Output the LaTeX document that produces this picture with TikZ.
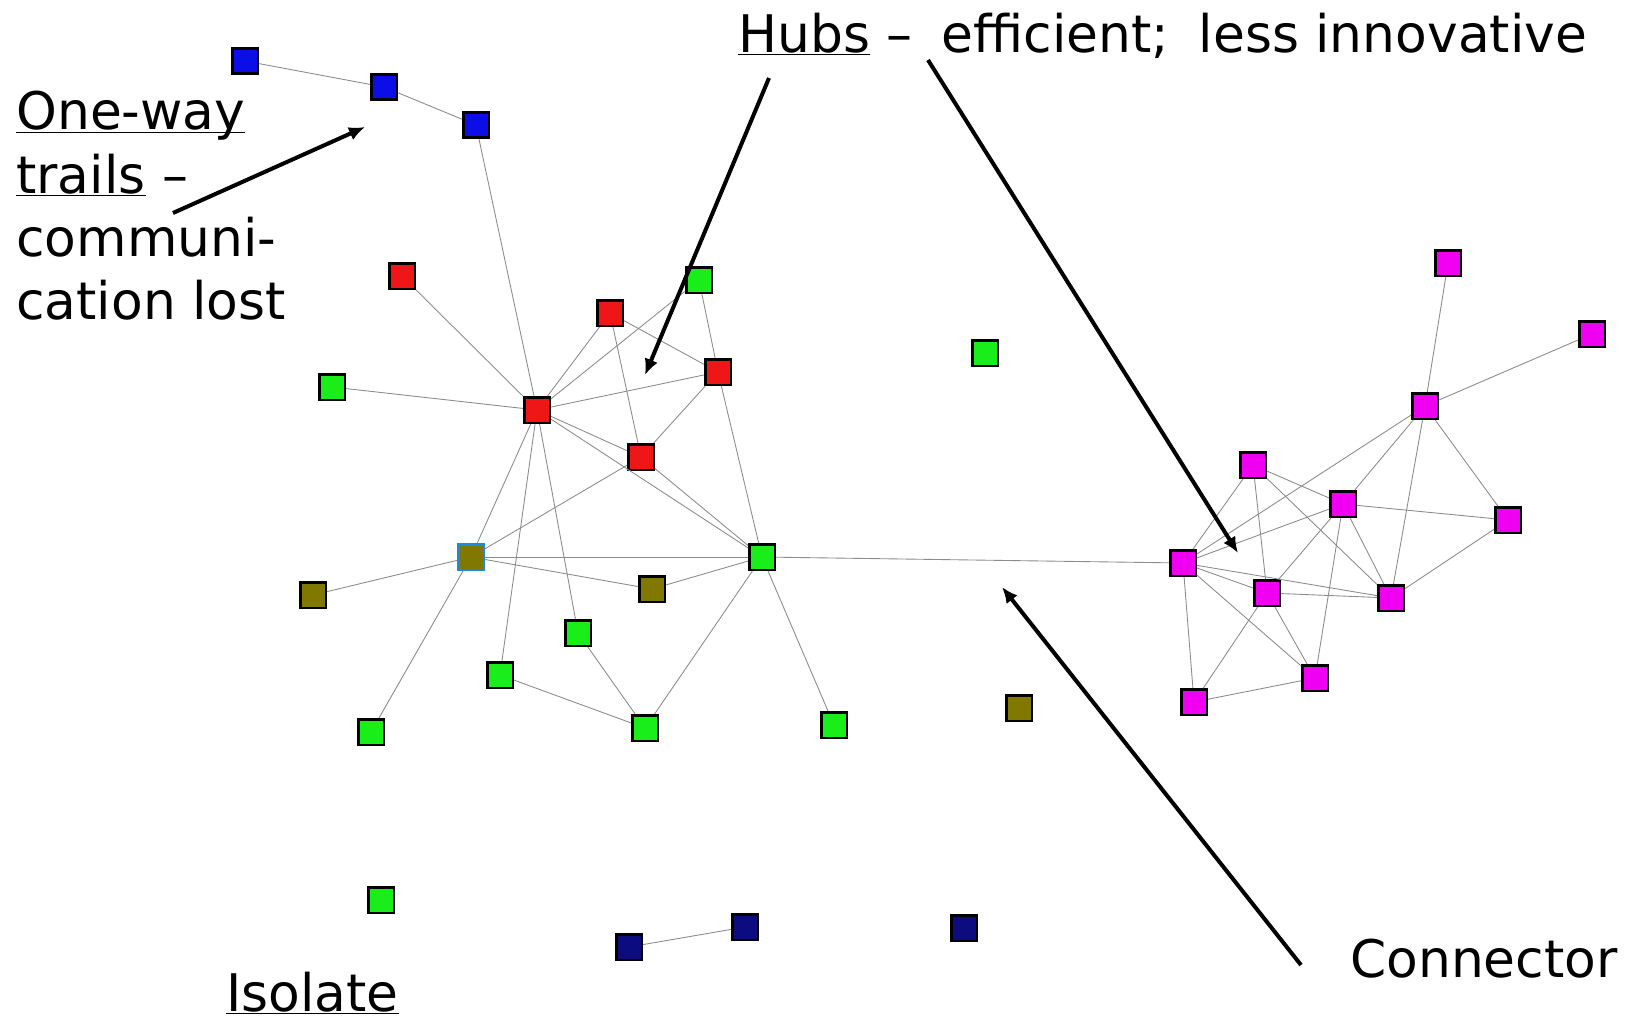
\documentclass[tikz,border=0pt]{standalone}
\usepackage{fontspec}
\setmainfont{DejaVu Sans}
\usetikzlibrary{arrows.meta}
\definecolor{actorred}{RGB}{238,22,22}
\definecolor{actorgreen}{RGB}{26,238,26}
\definecolor{actorblue}{RGB}{12,14,232}
\definecolor{actornavy}{RGB}{12,12,128}
\definecolor{actorolive}{RGB}{128,120,0}
\definecolor{actorpink}{RGB}{240,0,240}
\definecolor{ringblue}{RGB}{30,136,224}
\definecolor{tiegray}{RGB}{140,140,140}
\newcommand\ulword[1]{\underline{\raisebox{0pt}[\height][0pt]{#1}}}
\tikzset{
  actor/.style={draw=black, line width=0.05cm, inner sep=0pt, minimum size=0.51cm},
  tie/.style={draw=tiegray, line width=0.5pt},
  pointer/.style={line width=0.08cm, -{Latex[length=0.32cm,width=0.28cm]}},
  caption/.style={font=\fontsize{29.5}{36}\selectfont, inner sep=0pt},
}

\begin{document}
\begin{tikzpicture}[x=0.02cm, y=-0.02cm]
			%%%%% START %%%%%
			\useasboundingbox (0,0) rectangle (1629,1021);
			
			% left group
			\node[actor, fill=actorblue] (b1) at (245, 61) {};
			\node[actor, fill=actorblue] (b2) at (384, 87) {};
			\node[actor, fill=actorblue] (b3) at (476, 125) {};
			
			\node[actor, fill=actorred] (r1) at (402, 276) {};
			\node[actor, fill=actorred] (r2) at (610, 313) {};
			\node[actor, fill=actorred] (r3) at (718, 372) {};
			\node[actor, fill=actorred] (r4) at (537, 410) {};
			\node[actor, fill=actorred] (r5) at (641, 457) {};
			
			\node[actor, fill=actorgreen] (g1) at (699, 280) {};
			\node[actor, fill=actorgreen] (g2) at (332, 387) {};
			\node[actor, fill=actorgreen] (g3) at (578, 633) {};
			\node[actor, fill=actorgreen] (g4) at (500, 675) {};
			\node[actor, fill=actorgreen] (g5) at (371, 732) {};
			\node[actor, fill=actorgreen] (g6) at (645, 728) {};
			\node[actor, fill=actorgreen] (g7) at (834, 725) {};
			\node[actor, fill=actorgreen] (g8) at (985, 353) {};
			\node[actor, fill=actorgreen] (g9) at (381, 900) {};
			\node[actor, fill=actorgreen] (gh) at (762, 557) {};
			
			\node[actor, draw=ringblue, fill=actorolive] (o1) at (471, 557) {};
			\node[actor, fill=actorolive] (o2) at (313, 595) {};
			\node[actor, fill=actorolive] (o3) at (652, 589) {};
			\node[actor, fill=actorolive] (o4) at (1019, 708) {};
			
			\node[actor, fill=actornavy] (n1) at (629, 947) {};
			\node[actor, fill=actornavy] (n2) at (745, 927) {};
			\node[actor, fill=actornavy] (n3) at (964, 928) {};
			
			% right group
			\node[actor, fill=actorpink] (p1) at (1448, 263) {};
			\node[actor, fill=actorpink] (p2) at (1592, 334) {};
			\node[actor, fill=actorpink] (p3) at (1425, 406) {};
			\node[actor, fill=actorpink] (p4) at (1253, 465) {};
			\node[actor, fill=actorpink] (p5) at (1343, 504) {};
			\node[actor, fill=actorpink] (p6) at (1508, 520) {};
			\node[actor, fill=actorpink] (p7) at (1183, 563) {};
			\node[actor, fill=actorpink] (p8) at (1267, 593) {};
			\node[actor, fill=actorpink] (p9) at (1391, 598) {};
			\node[actor, fill=actorpink] (p10) at (1315, 678) {};
			\node[actor, fill=actorpink] (p11) at (1194, 702) {};
			
			\foreach \a/\b in {b1/b2, b2/b3, b3/r4, r1/r4, g2/r4, r4/r2, r4/g1, r4/r3,
				r4/r5, r4/gh, r4/o1, r4/g4, r4/g3, r2/r3, r2/r5, g1/r3, r3/gh, r3/r5,
				r5/gh, r5/o1, o1/o2, o1/o3, o1/gh, o1/g5, o3/gh, g3/g6, g4/g6, g6/gh,
				gh/g7, gh/p7, n1/n2}
				\draw[tie] (\a) -- (\b);
			
			\foreach \a/\b in {p1/p3, p2/p3, p3/p7, p3/p5, p3/p9, p3/p6, p4/p7, p4/p8,
				p4/p5, p4/p9, p5/p7, p5/p6, p5/p8, p5/p9, p5/p10, p6/p9, p7/p8, p7/p9,
				p7/p10, p7/p11, p8/p9, p8/p10, p8/p11, p10/p11}
				\draw[tie] (\a) -- (\b);
			
			% labels
			\node[caption, anchor=north west, align=left] (trails) at (16, 91)
				{\ulword{One-way}\\ \ulword{trails} --\\ communi-\\ cation lost};
			\node[caption, anchor=base west] (hubs) at (738, 52)
				{\ulword{Hubs} -- \hspace{0.25em}efficient; \hspace{0.25em}less innovative};
			\node[caption, anchor=base west] (isolate) at (226, 1011) {\ulword{Isolate}};
			\node[caption, anchor=base west] (connector) at (1350, 977) {Connector};
			
			\coordinate (trails tail) at (173, 213);
			\coordinate (trails tip) at (365, 127);
			\coordinate (hubs left) at (769, 78);
			\coordinate (hubs left tip) at (645, 375);
			\coordinate (hubs right) at (928, 60);
			\coordinate (hubs right tip) at (1238, 553);
			\coordinate (connector tail) at (1301, 965);
			\coordinate (connector tip) at (1002, 587);
			
			\draw[pointer] (trails tail) -- (trails tip);
			\draw[pointer] (hubs left) -- (hubs left tip);
			\draw[pointer] (hubs right) -- (hubs right tip);
			\draw[pointer] (connector tail) -- (connector tip);
			
			%%%%% END %%%%%
\end{tikzpicture}
\end{document}
